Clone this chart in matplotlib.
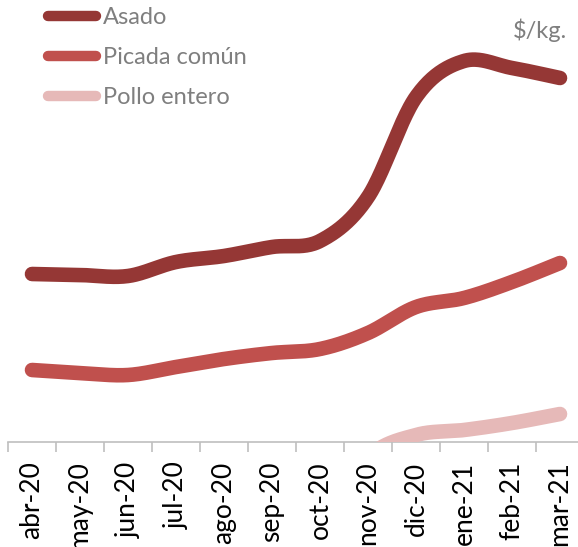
import numpy as np
import matplotlib.pyplot as plt
from matplotlib.lines import Line2D

meses = ["abr-20", "may-20", "jun-20", "jul-20", "ago-20", "sep-20",
         "oct-20", "nov-20", "dic-20", "ene-21", "feb-21", "mar-21"]
asado = [168, 167, 166, 180, 186, 195, 201, 245, 345, 381, 374, 364]
picada = [72, 69, 67, 75, 83, 89, 93, 109, 135, 144, 160, 179]
# pollo sits under the axis minimum until nov-20 (clipped, as in the source)
pollo = [np.nan, np.nan, np.nan, np.nan, np.nan, np.nan, -80, -15, 7, 12, 19, 28]

series = [("Asado", asado, "#953735"),
          ("Picada común", picada, "#C0504D"),
          ("Pollo entero", pollo, "#E6B9B8")]

FONT = "Lato"
W, H = 578, 547


def smooth(x, y, n=40):
    # excel-like smoothed line (catmull-rom as bezier)
    x = np.asarray(x, float)
    y = np.asarray(y, float)
    ok = ~np.isnan(y)
    P = np.column_stack([x[ok], y[ok]])
    out = []
    t = np.linspace(0, 1, n)[:, None]
    for i in range(len(P) - 1):
        p0 = P[i - 1] if i > 0 else P[i]
        p3 = P[i + 2] if i + 2 < len(P) else P[i + 1]
        c1 = P[i] + (P[i + 1] - p0) / 6
        c2 = P[i + 1] - (p3 - P[i]) / 6
        seg = ((1 - t) ** 3 * P[i] + 3 * (1 - t) ** 2 * t * c1
               + 3 * (1 - t) * t ** 2 * c2 + t ** 3 * P[i + 1])
        out.append(seg)
    out = np.vstack(out)
    return out[:, 0], out[:, 1]


fig = plt.figure(figsize=(W / 100, H / 100), dpi=100)
ax = fig.add_axes([8 / W, 105 / H, 576 / W, 442 / H])

x = np.arange(len(meses))
for name, vals, col in series:
    sx, sy = smooth(x, vals)
    ax.plot(sx, sy, color=col, lw=10.5, solid_capstyle="round", zorder=3)

ax.set_xlim(-0.5, 11.5)
ax.set_ylim(0, 442)
for s in ["top", "right", "left"]:
    ax.spines[s].set_visible(False)
ax.spines["bottom"].set_color("#bfbfbf")
ax.spines["bottom"].set_linewidth(1.2)
ax.set_yticks([])
ax.set_xticks(x)
ax.set_xticklabels(meses, rotation=90, fontsize=19, family=FONT, color="#000000")
ax.set_xticks(np.arange(-0.5, 12, 1), minor=True)
ax.tick_params(axis="x", which="major", length=0, pad=14)
ax.tick_params(axis="x", which="minor", length=7.5, width=1.2, color="#bfbfbf")

# legend drawn by hand so rows land where the original has them
for i, (name, vals, col) in enumerate(series):
    ly = 1 - (16 + 40 * i) / H
    fig.add_artist(Line2D([48 / W, 96 / W], [ly, ly], color=col, lw=7.5,
                          solid_capstyle="round", transform=fig.transFigure))
    fig.text(103 / W, 1 - (24 + 40 * i) / H, name, ha="left", va="baseline",
             family=FONT, fontsize=17, color="#7f7f7f")

fig.text(567 / W, 1 - 30 / H, "$/kg.", ha="right", va="center",
         family=FONT, fontsize=17, color="#7f7f7f")

fig.savefig("out.png", dpi=100)
